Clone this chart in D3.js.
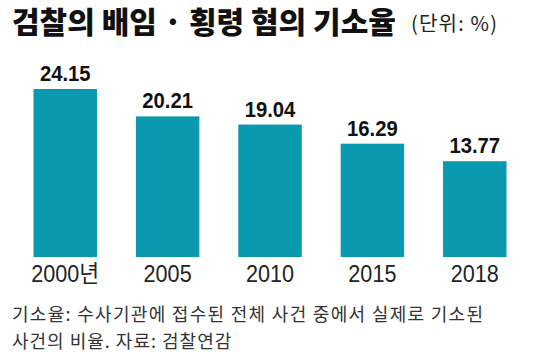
<!DOCTYPE html>
<html><head><meta charset="utf-8">
<script src="https://cdn.jsdelivr.net/npm/d3@7"></script>
<style>
html,body{margin:0;padding:0;background:#fff;}
svg{display:block;}
</style></head>
<body>
<script>
const categories = ["2000년", "2005", "2010", "2015", "2018"];
const values = [24.15, 20.21, 19.04, 16.29, 13.77];
const valueLabels = ["24.15", "20.21", "19.04", "16.29", "13.77"];
const title = "검찰의 배임 · 횡령 혐의 기소율";
const unit = "(단위: %)";
const notes = ["기소율: 수사기관에 접수된 전체 사건 중에서 실제로 기소된", "사건의 비율. 자료: 검찰연감"];

const W = 537, H = 355;
const svg = d3.select("body").append("svg").attr("width", W).attr("height", H);

const x = d3.scaleBand().domain(categories).range([12, 528]).paddingInner(0.38).paddingOuter(0.21);
const y = d3.scaleLinear().domain([0, 24.15]).range([257, 89]);

svg.append("text").attr("x", 12).attr("y", 33)
  .attr("font-family", "'Noto Sans CJK KR'").attr("font-weight", 900)
  .attr("font-size", 30).attr("fill", "#111").text(title);
svg.append("text").attr("x", 411).attr("y", 31)
  .attr("font-family", "'Noto Sans CJK KR'").attr("font-weight", 400)
  .attr("font-size", 20).attr("fill", "#222")
  .attr("textLength", 86).attr("lengthAdjust", "spacing").text(unit);

svg.selectAll("rect.bar").data(values).join("rect").attr("class", "bar")
  .attr("x", (d, i) => x(categories[i])).attr("width", x.bandwidth())
  .attr("y", d => y(d)).attr("height", d => y(0) - y(d))
  .attr("fill", "#0a99ae");

svg.selectAll("text.val").data(values).join("text").attr("class", "val")
  .attr("transform", (d, i) => `translate(${x(categories[i]) + x.bandwidth() / 2},${y(d) - 8}) scale(0.9,1)`)
  .attr("text-anchor", "middle")
  .attr("font-family", "'Liberation Sans', sans-serif")
  .attr("font-weight", 700).attr("font-size", 22.5).attr("fill", "#111")
  .text((d, i) => valueLabels[i]);

const xAxis = svg.append("g").attr("transform", "translate(0,257)")
  .call(d3.axisBottom(x).tickSize(0).tickPadding(0));
xAxis.select(".domain").remove();
xAxis.selectAll(".tick text")
  .attr("y", 0).attr("dy", 0)
  .attr("transform", "translate(0,25) scale(0.92,1)")
  .attr("font-family", "'Liberation Sans', 'Noto Sans CJK KR', sans-serif")
  .attr("font-size", 23.5).attr("fill", "#222");

svg.selectAll("text.note").data(notes).join("text").attr("class", "note")
  .attr("x", 12).attr("y", (d, i) => 321 + i * 27)
  .attr("font-family", "'Noto Sans CJK KR'").attr("font-size", 18).attr("fill", "#333")
  .attr("letter-spacing", (d, i) => i === 0 ? 1.3 : 1)
  .text(d => d);
</script>
</body></html>
